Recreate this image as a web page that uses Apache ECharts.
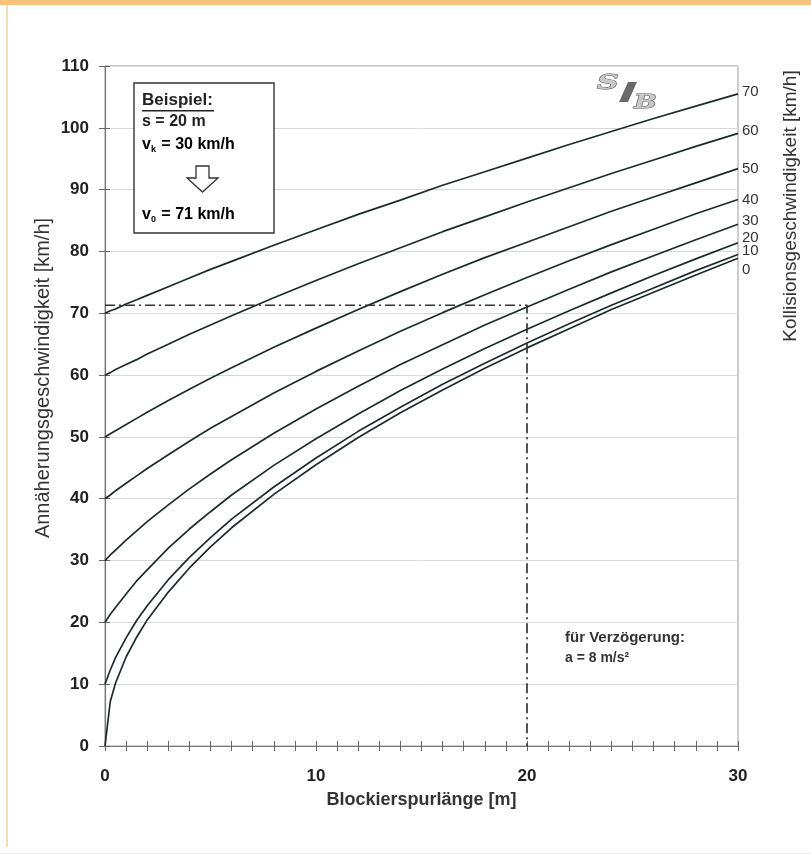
<!DOCTYPE html>
<html><head><meta charset="utf-8">
<script src="https://cdn.jsdelivr.net/npm/echarts@6/dist/echarts.min.js"></script>
<style>html,body{margin:0;padding:0;background:#fff}#c{width:811px;height:856px}</style>
</head><body><div id="c"></div>
<script>
// Blockierspurlänge [m]
const distances = [0, 0.25, 0.5, 1, 1.5, 2, 3, 4, 5, 6, 8, 10, 12, 14, 16, 18, 20, 22, 24, 26, 28, 30];
// Kollisionsgeschwindigkeit labels [km/h]
const collisionLabels = ['0', '10', '20', '30', '40', '50', '60', '70'];
// Annäherungsgeschwindigkeit [km/h] per collision speed
const v0_k0  = [0, 7.2, 10.2, 14.4, 17.6, 20.4, 24.9, 28.8, 32.2, 35.3, 40.7, 45.5, 49.9, 53.9, 57.6, 61.1, 64.4, 67.5, 70.6, 73.4, 76.2, 78.9];
const v0_k10 = [10, 12.3, 14.3, 17.5, 20.3, 22.7, 26.9, 30.5, 33.7, 36.7, 41.9, 46.6, 50.9, 54.8, 58.5, 61.9, 65.2, 68.3, 71.3, 74.1, 76.9, 79.5];
const v0_k20 = [20, 21.3, 22.4, 24.6, 26.7, 28.5, 32.0, 35.1, 37.9, 40.6, 45.4, 49.7, 53.7, 57.5, 61.0, 64.3, 67.4, 70.4, 73.3, 76.1, 78.8, 81.4];
const v0_k30 = [30, 30.9, 31.7, 33.3, 34.8, 36.3, 39.0, 41.6, 44.0, 46.3, 50.6, 54.5, 58.2, 61.7, 64.9, 68.1, 71.0, 73.9, 76.7, 79.3, 81.9, 84.4];
const v0_k40 = [40, 40.6, 41.3, 42.5, 43.7, 44.9, 47.1, 49.3, 51.4, 53.3, 57.1, 60.6, 63.9, 67.1, 70.1, 73.0, 75.8, 78.5, 81.1, 83.6, 86.1, 88.4];
const v0_k50 = [50, 50.5, 51.0, 52.0, 53.0, 54.0, 55.9, 57.7, 59.5, 61.2, 64.5, 67.6, 70.6, 73.5, 76.3, 79.0, 81.5, 84.0, 86.5, 88.8, 91.1, 93.4];
const v0_k60 = [60, 60.4, 60.9, 61.7, 62.5, 63.4, 65.0, 66.6, 68.1, 69.6, 72.5, 75.3, 78.0, 80.6, 83.2, 85.6, 88.0, 90.3, 92.6, 94.8, 97.0, 99.1];
const v0_k70 = [70, 70.4, 70.7, 71.5, 72.2, 72.9, 74.3, 75.7, 77.1, 78.4, 81.0, 83.5, 86.0, 88.3, 90.7, 92.9, 95.1, 97.3, 99.4, 101.5, 103.5, 105.5];
const curves = [v0_k0, v0_k10, v0_k20, v0_k30, v0_k40, v0_k50, v0_k60, v0_k70];
// Beispiel: s = 20 m, vk = 30 km/h -> v0 = 71 km/h
const exampleS = [0, 20, 20];
const exampleV = [71.3, 71.3, 0];
const yTicks = [0, 10, 20, 30, 40, 50, 60, 70, 80, 90, 100, 110];
const xLabelTicks = [0, 10, 20, 30];

const labelOffsets = [[0, 12], [0, -4], [0, -5], [0, -3], [0, 0], [0, 0], [0, -3], [0, -2]];
const FONT = '"Liberation Sans", Arial, sans-serif';
const lineColor = '#1e2b2b';

const series = curves.map((vals, i) => ({
  type: 'line',
  name: collisionLabels[i],
  data: distances.map((s, j) => [s, vals[j]]),
  smooth: false,
  showSymbol: false,
  lineStyle: { color: lineColor, width: 1.7 },
  z: 3,
  endLabel: {
    show: true,
    formatter: collisionLabels[i],
    color: '#333',
    fontFamily: FONT,
    fontSize: 15,
    distance: 4,
    offset: labelOffsets[i]
  }
}));
series.push({
  type: 'line',
  data: exampleS.map((s, j) => [s, exampleV[j]]),
  showSymbol: false,
  lineStyle: { color: '#333', width: 1.7, type: [10, 4, 2, 4] },
  z: 4
});

const chart = echarts.init(document.getElementById('c'), null, { renderer: 'canvas' });
const axisLineStyle = { color: '#7a7a7a', width: 1.2 };
const subRich = {
  a: { fontFamily: FONT, fontSize: 16, fontWeight: 'bold', color: '#222' },
  s: { fontFamily: FONT, fontSize: 9, fontWeight: 'bold', color: '#222', padding: [9, 1, 0, 0] }
};
chart.setOption({
  animation: false,
  backgroundColor: '#fff',
  grid: { left: 105, right: 73, top: 66, bottom: 110, show: true, borderColor: '#9a9a9a', borderWidth: 1 },
  xAxis: [{
    type: 'value', min: 0, max: 30, interval: 1,
    name: 'Blockierspurlänge [m]', nameLocation: 'middle', nameGap: 45,
    nameTextStyle: { fontFamily: FONT, fontSize: 18, fontWeight: 'bold', color: '#333' },
    axisLine: { show: true, lineStyle: axisLineStyle },
    axisTick: { show: true, length: 5, lineStyle: { color: '#666' } },
    axisLabel: { fontFamily: FONT, fontSize: 17, fontWeight: 'bold', color: '#222', margin: 22,
      formatter: v => xLabelTicks.includes(v) ? String(v) : '' },
    splitLine: { show: false }
  }, {
    type: 'value', min: 0, max: 30, interval: 1, position: 'bottom',
    axisLine: { show: false },
    axisTick: { show: true, inside: true, length: 5, lineStyle: { color: '#666' } },
    axisLabel: { show: false }, splitLine: { show: false }
  }],
  yAxis: [{
    type: 'value', min: 0, max: 110, interval: 10,
    axisLine: { show: true, lineStyle: axisLineStyle },
    axisTick: { show: true, length: 6, lineStyle: { color: '#666' } },
    axisLabel: { fontFamily: FONT, fontSize: 17, fontWeight: 'bold', color: '#222', margin: 16,
      formatter: v => yTicks.includes(v) ? String(v) : '' },
    splitLine: { show: true, lineStyle: { color: '#d8d8d8', width: 1 } }
  }, {
    type: 'value', min: 0, max: 110, interval: 10, position: 'left',
    axisLine: { show: false },
    axisTick: { show: true, inside: true, length: 5, lineStyle: { color: '#666' } },
    axisLabel: { show: false }, splitLine: { show: false }
  }],
  series: series,
  graphic: [
    { type: 'rect', shape: { x: 0, y: 0, width: 811, height: 5 }, style: { fill: '#f6c27e' }, silent: true },
    { type: 'rect', shape: { x: 6, y: 5, width: 2, height: 842 }, style: { fill: '#f4dcb4' }, silent: true },
    { type: 'rect', shape: { x: 0, y: 853, width: 811, height: 1 }, style: { fill: '#eeeeee' }, silent: true },
    // axis titles (rotated)
    { type: 'text', x: 43, y: 378, rotation: Math.PI / 2, z: 11,
      style: { text: 'Annäherungsgeschwindigkeit [km/h]', font: '20px ' + FONT, fill: '#333', align: 'center', verticalAlign: 'middle' } },
    { type: 'text', x: 791, y: 206, rotation: Math.PI / 2, z: 11,
      style: { text: 'Kollisionsgeschwindigkeit [km/h]', font: '19px ' + FONT, fill: '#333', align: 'center', verticalAlign: 'middle' } },
    // example box
    { type: 'rect', shape: { x: 134, y: 83, width: 140, height: 150 }, style: { fill: '#fff', stroke: '#333', lineWidth: 1.4 }, z: 10 },
    { type: 'text', x: 142, y: 92, z: 11, style: { text: 'Beispiel:', font: 'bold 17px ' + FONT, fill: '#222' } },
    { type: 'rect', shape: { x: 142, y: 110, width: 72, height: 1.4 }, style: { fill: '#222' }, z: 11 },
    { type: 'text', x: 142, y: 114, z: 11, style: { text: 's = 20 m', font: 'bold 16px ' + FONT, fill: '#222' } },
    { type: 'text', x: 142, y: 136, z: 11, style: { text: '{a|v}{s|k}{a| = 30 km/h}', rich: subRich } },
    { type: 'polygon', z: 11, shape: { points: [[196, 166], [209, 166], [209, 178], [218, 178], [202.5, 192], [187, 178], [196, 178]] },
      style: { fill: '#fff', stroke: '#333', lineWidth: 1.3 } },
    { type: 'text', x: 142, y: 206, z: 11, style: { text: '{a|v}{s|0}{a| = 71 km/h}', rich: subRich } },
    // logo
    { type: 'text', x: 597, y: 74, scaleX: 1.5, z: 11, style: { text: 'S', font: 'italic bold 20px "DejaVu Serif", serif', fill: '#c8c8c8', stroke: '#555', lineWidth: 0.9 } },
    { type: 'polygon', z: 11, shape: { points: [[628, 82], [637, 82], [628, 102], [619, 102]] }, style: { fill: '#6a6a6a' } },
    { type: 'text', x: 634, y: 94, scaleX: 1.5, z: 11, style: { text: 'B', font: 'italic bold 18px "DejaVu Serif", serif', fill: '#c8c8c8', stroke: '#555', lineWidth: 0.9 } },
    // deceleration note
    { type: 'text', x: 565, y: 630, z: 11, style: { text: 'für Verzögerung:', font: 'bold 15px ' + FONT, fill: '#333' } },
    { type: 'text', x: 565, y: 651, z: 11, style: { text: 'a = 8 m/s²', font: 'bold 14px ' + FONT, fill: '#333' } }
  ]
});
</script></body></html>
